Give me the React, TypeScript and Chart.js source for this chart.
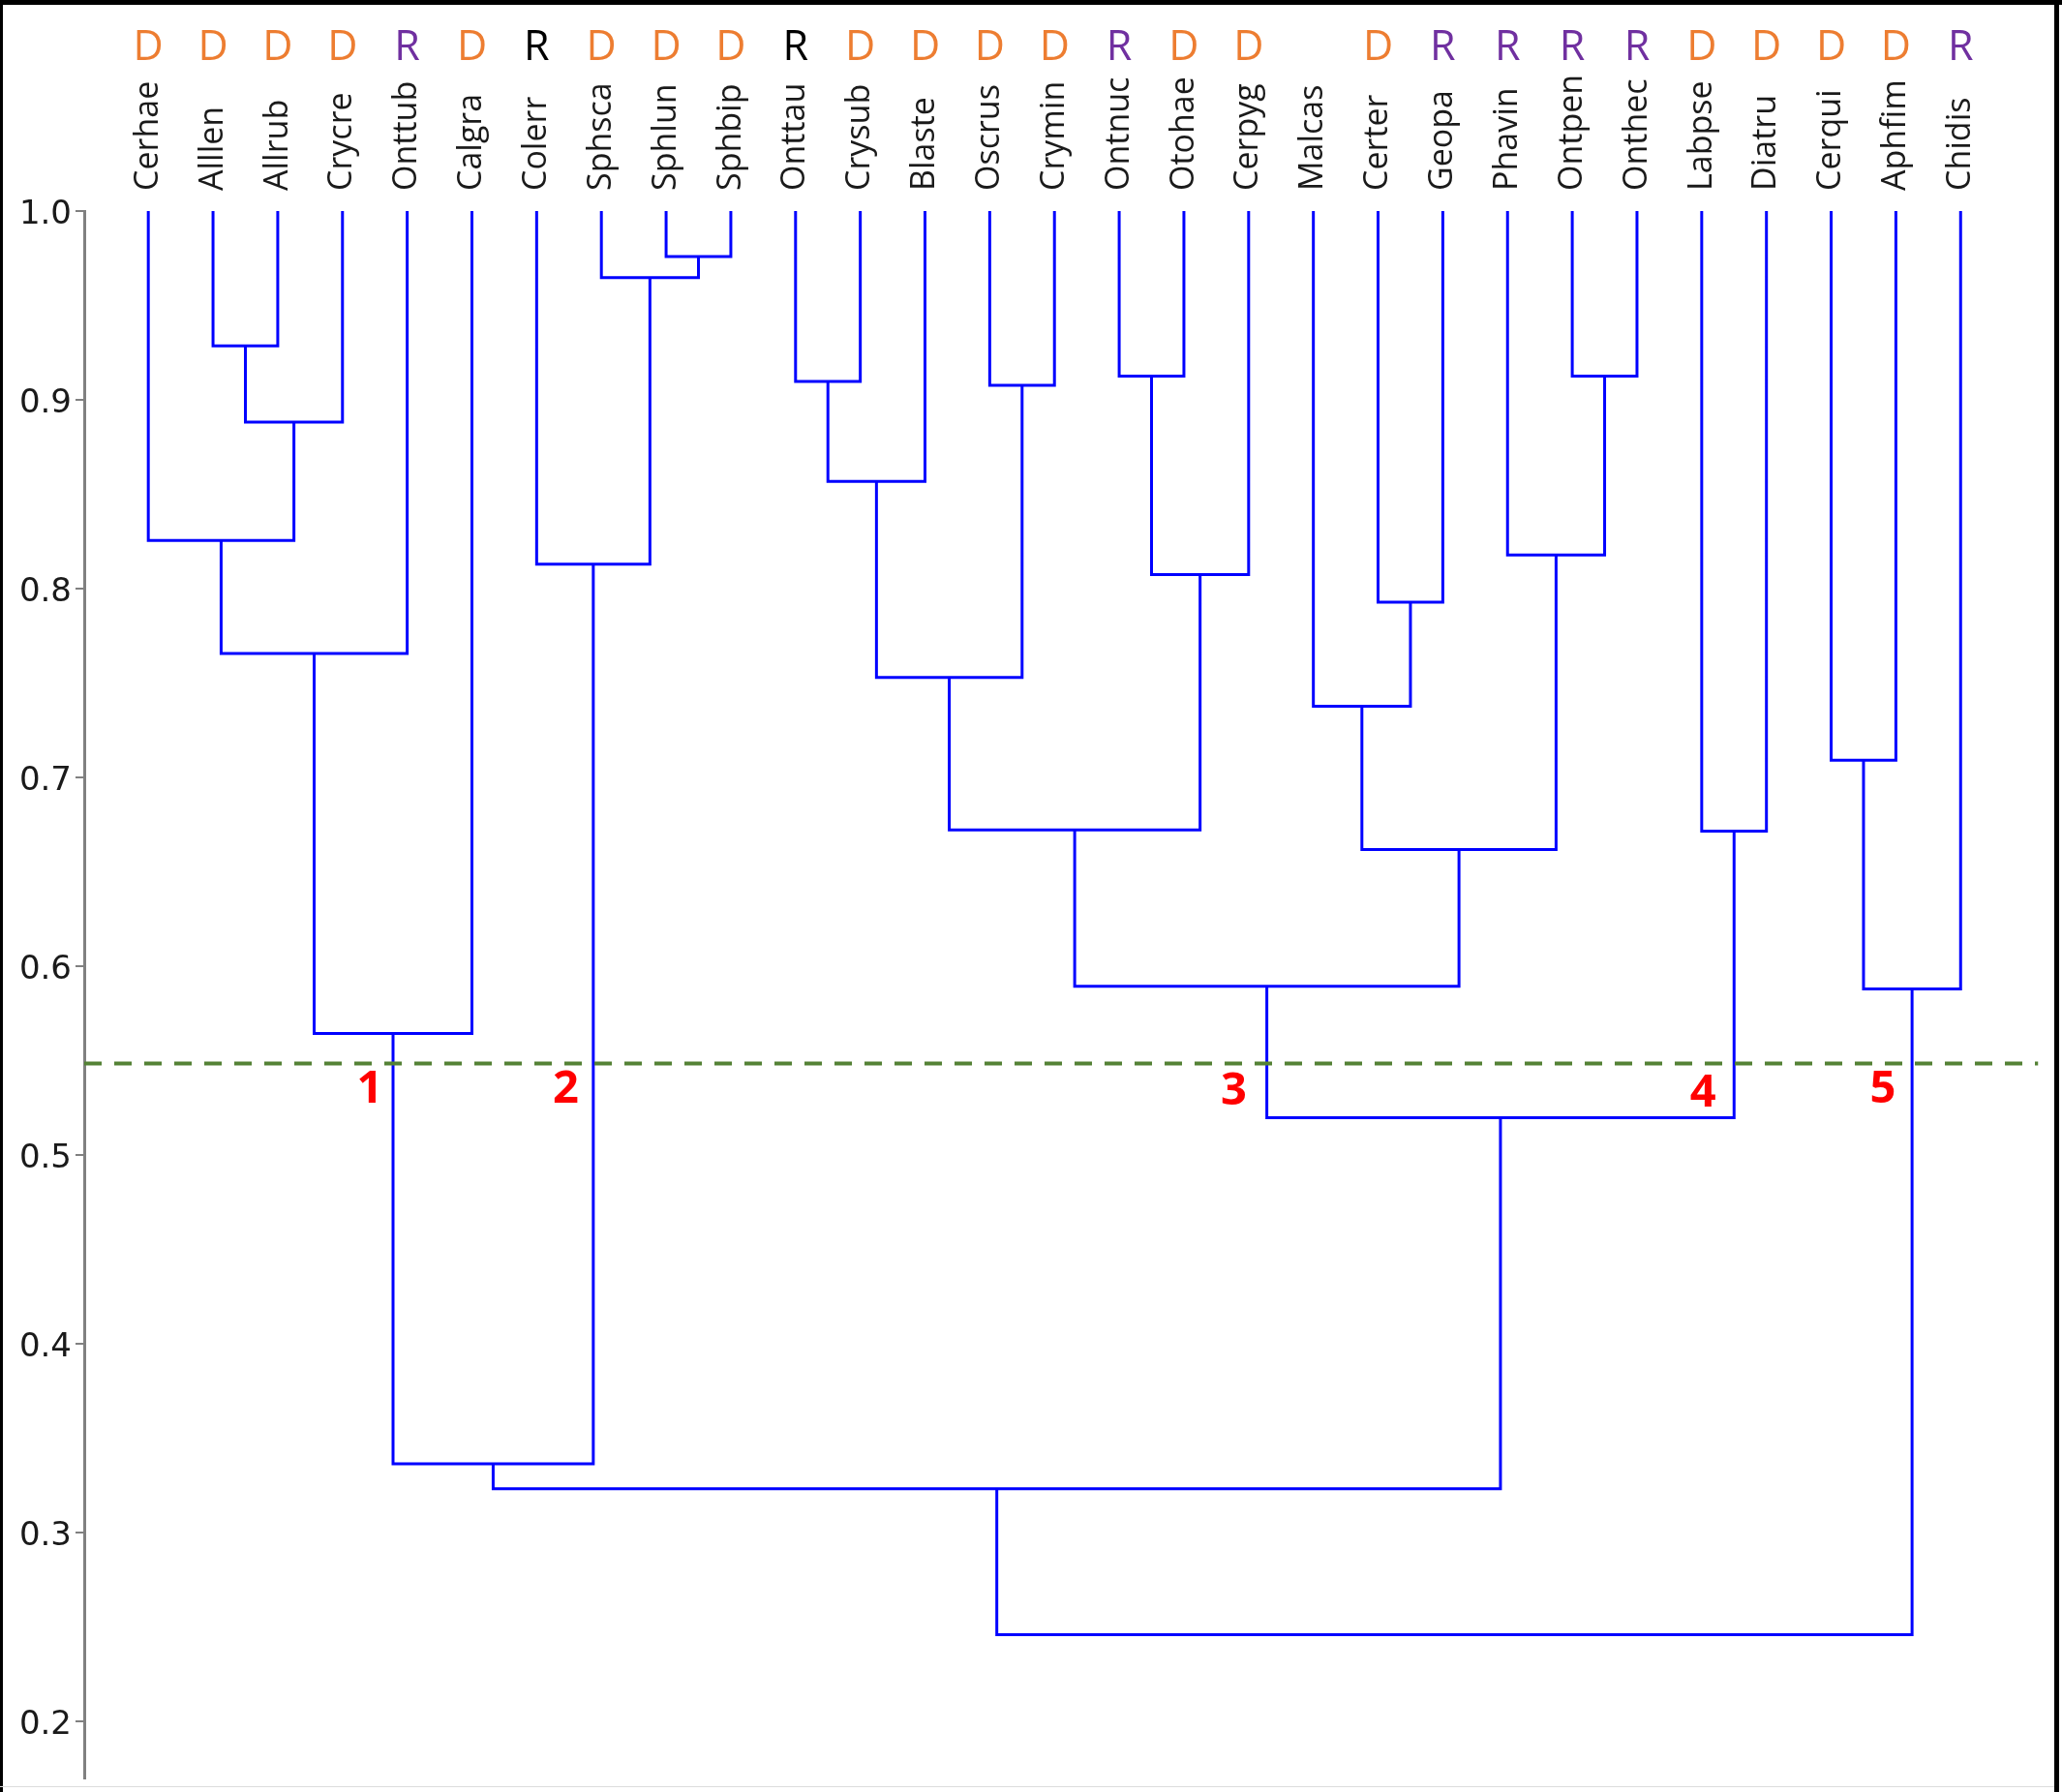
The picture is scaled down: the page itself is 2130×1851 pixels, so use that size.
import React, { useEffect, useRef } from 'react';
import { Chart, registerables } from 'chart.js';

Chart.register(...registerables);

// ---------- data ----------
const leafNames = [
  'Cerhae', 'Alllen', 'Allrub', 'Crycre', 'Onttub', 'Calgra', 'Colerr', 'Sphsca', 'Sphlun', 'Sphbip',
  'Onttau', 'Crysub', 'Blaste', 'Oscrus', 'Crymin', 'Ontnuc', 'Otohae', 'Cerpyg', 'Malcas', 'Certer',
  'Geopa', 'Phavin', 'Ontpen', 'Onthec', 'Labpse', 'Diatru', 'Cerqui', 'Aphfim', 'Chidis',
];
const leafGroups = [
  'D', 'D', 'D', 'D', 'R', 'D', 'R', 'D', 'D', 'D',
  'R', 'D', 'D', 'D', 'D', 'R', 'D', 'D', '', 'D',
  'R', 'R', 'R', 'R', 'D', 'D', 'D', 'D', 'R',
];
// o = orange, p = purple, k = black
const leafGroupTone = [
  'o', 'o', 'o', 'o', 'p', 'o', 'k', 'o', 'o', 'o',
  'k', 'o', 'o', 'o', 'o', 'p', 'o', 'o', '', 'o',
  'p', 'p', 'p', 'p', 'o', 'o', 'o', 'o', 'p',
];
// merges: node ids 0..28 are leaves, merge k creates node 29 + k
const mergeLeft = [1, 29, 0, 31, 32, 8, 7, 6, 33, 10, 38, 13, 39, 15, 42, 41, 19, 18, 22, 21, 46, 44, 24, 50, 37, 26, 54, 53];
const mergeRight = [2, 3, 30, 4, 5, 9, 34, 35, 36, 11, 12, 14, 40, 16, 17, 43, 20, 45, 23, 47, 48, 49, 25, 51, 52, 27, 28, 55];
const mergeHeight = [
  0.9286, 0.8882, 0.8255, 0.7656, 0.5643, 0.9759, 0.9648, 0.813, 0.3364, 0.9098,
  0.8568, 0.9077, 0.753, 0.9126, 0.8074, 0.6722, 0.7928, 0.7377, 0.9126, 0.8178,
  0.6618, 0.5893, 0.6715, 0.5197, 0.3232, 0.7091, 0.588, 0.2459,
];
const leafHeight = 1.0;
const cutHeight = 0.5485;
const clusterNames = ['1', '2', '3', '4', '5'];
const clusterX = [3.42, 6.45, 16.77, 24.02, 26.8];
const clusterY = [0.5344, 0.5344, 0.5336, 0.5323, 0.5344];
const yTicks = [0.2, 0.3, 0.4, 0.5, 0.6, 0.7, 0.8, 0.9, 1.0];
const xRange = [-0.99, 29.2];
const yRange = [0.17, 1.0];

const toneColor: Record<string, string> = { o: '#ED7D31', p: '#7030A0', k: '#000000', '': '#000000' };

// ---------- build dendrogram geometry from structure ----------
const nodeX: number[] = leafNames.map((_, i) => i);
const nodeH: number[] = leafNames.map(() => leafHeight);
mergeLeft.forEach((l, k) => {
  const r = mergeRight[k];
  nodeX.push((nodeX[l] + nodeX[r]) / 2);
  nodeH.push(mergeHeight[k]);
});
const dendroPoints: { x: number; y: number | null }[] = [];
mergeLeft.forEach((l, k) => {
  const r = mergeRight[k];
  const h = mergeHeight[k];
  dendroPoints.push(
    { x: nodeX[l], y: nodeH[l] },
    { x: nodeX[l], y: h },
    { x: nodeX[r], y: h },
    { x: nodeX[r], y: nodeH[r] },
    { x: nodeX[r], y: null },
  );
});

const leafTicks = (scale: any) => {
  scale.ticks = leafNames.map((_, i) => ({ value: i }));
};

const framePlugin = {
  id: 'frame',
  beforeDraw(chart: any) {
    const { ctx, width, height } = chart;
    ctx.save();
    ctx.fillStyle = '#ffffff';
    ctx.fillRect(0, 0, width, height);
    ctx.restore();
  },
  afterDraw(chart: any) {
    const { ctx, width, height } = chart;
    ctx.save();
    ctx.fillStyle = '#000000';
    ctx.fillRect(0, 0, width, 5);
    ctx.fillRect(0, 0, 3, height);
    ctx.fillRect(width - 8, 0, 5, height);
    ctx.fillStyle = '#dddddd';
    ctx.fillRect(0, height - 6, width - 8, 1);
    ctx.restore();
  },
};

const clusterLabelPlugin = {
  id: 'clusterLabels',
  afterDatasetsDraw(chart: any) {
    const { ctx, scales } = chart;
    ctx.save();
    ctx.fillStyle = '#FF0000';
    ctx.font = 'bold 47px "Open Sans"';
    ctx.textAlign = 'center';
    ctx.textBaseline = 'middle';
    clusterNames.forEach((t, i) => {
      ctx.fillText(t, scales.x.getPixelForValue(clusterX[i]), scales.y.getPixelForValue(clusterY[i]));
    });
    ctx.restore();
  },
};

export default function App() {
  const ref = useRef<HTMLCanvasElement>(null);
  useEffect(() => {
    document.body.style.margin = '0';
    document.body.style.overflow = 'hidden';
    const chart = new Chart(ref.current as HTMLCanvasElement, {
      type: 'line',
      data: {
        datasets: [
          {
            label: 'cut',
            data: [
              { x: xRange[0], y: cutHeight },
              { x: xRange[1], y: cutHeight },
            ],
            borderColor: '#548235',
            borderWidth: 4,
            borderDash: [18, 13],
            pointRadius: 0,
            xAxisID: 'x',
            yAxisID: 'y',
          },
          {
            label: 'dendrogram',
            data: dendroPoints as any,
            borderColor: '#0000FF',
            borderWidth: 3,
            pointRadius: 0,
            spanGaps: false,
            tension: 0,
            borderJoinStyle: 'miter',
            xAxisID: 'x',
            yAxisID: 'y',
          },
        ],
      },
      options: {
        responsive: false,
        animation: false,
        devicePixelRatio: 1,
        events: [],
        layout: { padding: { top: 0, left: 0, right: 24.5, bottom: 14.5 } },
        plugins: { legend: { display: false }, tooltip: { enabled: false } },
        scales: {
          x: {
            type: 'linear',
            position: 'top',
            min: xRange[0],
            max: xRange[1],
            weight: 0,
            afterBuildTicks: leafTicks,
            afterFit: (s: any) => {
              s.height = 142.4;
            },
            grid: { display: false, drawTicks: false },
            border: { display: false },
            ticks: {
              autoSkip: false,
              minRotation: 90,
              maxRotation: 90,
              padding: 21,
              labelOffset: 40.8,
              color: '#1a1a1a',
              font: { family: '"Open Sans"', size: 34 },
              callback: (_v: any, i: number) => leafNames[i],
            },
          },
          x2: {
            type: 'linear',
            position: 'top',
            min: xRange[0],
            max: xRange[1],
            weight: 1,
            afterBuildTicks: leafTicks,
            afterFit: (s: any) => {
              s.height = 75.6;
            },
            grid: { display: false, drawTicks: false },
            border: { display: false },
            ticks: {
              autoSkip: false,
              minRotation: 0,
              maxRotation: 0,
              padding: 0,
              color: (c: any) => toneColor[leafGroupTone[c.index]],
              font: { family: '"Open Sans"', size: 43 },
              callback: (_v: any, i: number) => leafGroups[i],
            },
          },
          y: {
            type: 'linear',
            position: 'left',
            min: yRange[0],
            max: yRange[1],
            afterBuildTicks: (s: any) => {
              s.ticks = yTicks.map((v) => ({ value: v }));
            },
            afterFit: (s: any) => {
              s.width = 87;
            },
            grid: { drawOnChartArea: false, drawTicks: true, tickLength: 9, color: '#808080', lineWidth: 2 },
            border: { display: true, color: '#808080', width: 3 },
            ticks: {
              padding: 4,
              labelOffset: 4,
              color: '#1a1a1a',
              font: { family: '"DejaVu Sans"', size: 34, lineHeight: 0.5 },
              callback: (v: any) => Number(v).toFixed(1),
            },
          },
        },
      },
      plugins: [framePlugin, clusterLabelPlugin],
    } as any);
    return () => chart.destroy();
  }, []);
  return (
    <div style={{ width: 2130, height: 1851 }}>
      <canvas ref={ref} width={2130} height={1851} style={{ display: 'block', width: 2130, height: 1851 }} />
    </div>
  );
}
